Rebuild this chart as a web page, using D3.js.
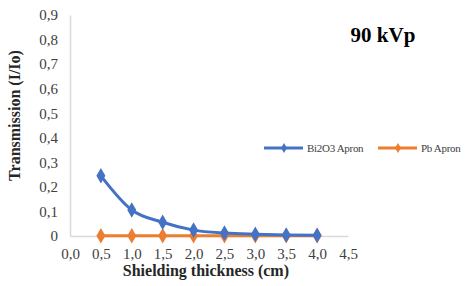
<!DOCTYPE html>
<html>
<head>
<meta charset="utf-8">
<script src="https://cdn.jsdelivr.net/npm/d3@7"></script>
<style>
  body { margin: 0; background: #fff; }
  svg text { font-family: "Liberation Serif", "Times New Roman", serif !important; }
</style>
</head>
<body>
<div id="chart"></div>
<script>
// data
var thickness = [0.5, 1.0, 1.5, 2.0, 2.5, 3.0, 3.5, 4.0];
var bi2o3 = [0.245, 0.106, 0.056, 0.024, 0.012, 0.007, 0.004, 0.003];
var pb = [0.001, 0.001, 0.001, 0.001, 0.001, 0.001, 0.001, 0.001];
var seriesNames = ["Bi2O3 Apron", "Pb Apron"];
var seriesColors = ["#4472C4", "#ED7D31"];
var xTicks = [0, 0.5, 1, 1.5, 2, 2.5, 3, 3.5, 4, 4.5];
var yTicks = [0, 0.1, 0.2, 0.3, 0.4, 0.5, 0.6, 0.7, 0.8, 0.9];

var W = 466, H = 286;
var margin = {top: 15, right: 118, bottom: 50, left: 70},
  width = W - margin.left - margin.right,
  height = H - margin.top - margin.bottom;

var svg = d3.select("#chart")
  .append("svg")
    .attr("width", W)
    .attr("height", H)
  .append("g")
    .attr("transform", "translate(" + margin.left + "," + margin.top + ")");

var x = d3.scaleLinear().domain([0, 4.5]).range([0, width]);
var y = d3.scaleLinear().domain([0, 0.9]).range([height, 0]);

var fmt = function(d) { return d3.format(".1f")(d).replace(".", ","); };
var fmtY = function(d) { return d === 0 ? "0" : d3.format(".1f")(d).replace(".", ","); };

// x axis
var xAxis = svg.append("g")
  .attr("transform", "translate(0," + height + ")")
  .call(d3.axisBottom(x).tickValues(xTicks).tickFormat(fmt).tickSize(0).tickPadding(12));
xAxis.select(".domain").attr("stroke", "#d9d9d9").attr("stroke-width", 1.5);
xAxis.selectAll("text").style("font-size", "15px").style("fill", "#404040");

// y axis
var yAxis = svg.append("g")
  .call(d3.axisLeft(y).tickValues(yTicks).tickFormat(fmtY).tickSize(0).tickPadding(12));
yAxis.select(".domain").attr("stroke", "#d9d9d9").attr("stroke-width", 1.5);
yAxis.selectAll("text").style("font-size", "15px").style("fill", "#404040");

// lines
var line = d3.line()
  .x(function(d) { return x(d[0]); })
  .y(function(d) { return y(d[1]); })
  .curve(d3.curveMonotoneX);

var sym = d3.symbol().type(d3.symbolDiamond).size(70);

[pb, bi2o3].forEach(function(vals, k) {
  var i = k === 0 ? 1 : 0;
  var pts = thickness.map(function(t, j) { return [t, vals[j]]; });
  svg.append("path")
    .datum(pts)
    .attr("fill", "none")
    .attr("stroke", seriesColors[i])
    .attr("stroke-width", 3)
    .attr("d", line);
  svg.selectAll(null)
    .data(pts)
    .enter()
    .append("path")
      .attr("transform", function(d) { return "translate(" + x(d[0]) + "," + y(d[1]) + ")"; })
      .attr("d", sym)
      .attr("fill", seriesColors[i]);
});

// axis titles
svg.append("text")
  .attr("transform", "rotate(-90)")
  .attr("x", -height / 2 + 10)
  .attr("y", -50)
  .attr("text-anchor", "middle")
  .style("font-size", "16px")
  .style("font-weight", "bold")
  .style("fill", "#262626")
  .text("Transmission  (I/Io)");

svg.append("text")
  .attr("x", x(2.2))
  .attr("y", height + 40)
  .attr("text-anchor", "middle")
  .style("font-size", "16px")
  .style("font-weight", "bold")
  .style("fill", "#262626")
  .text("Shielding thickness (cm)");

// chart title
svg.append("text")
  .attr("x", 383 - margin.left)
  .attr("y", 42 - margin.top)
  .attr("text-anchor", "middle")
  .style("font-size", "21px")
  .style("font-weight", "bold")
  .style("fill", "#000")
  .text("90 kVp");

// legend
var legend = svg.append("g").attr("transform", "translate(" + (264 - margin.left) + "," + (148 - margin.top) + ")");
var legendX = [0, 114];
seriesNames.forEach(function(name, i) {
  var g = legend.append("g").attr("transform", "translate(" + legendX[i] + ",0)");
  g.append("line").attr("x1", 0).attr("x2", 39).attr("y1", 0).attr("y2", 0)
    .attr("stroke", seriesColors[i]).attr("stroke-width", 3);
  g.append("path").attr("transform", "translate(20,0)")
    .attr("d", d3.symbol().type(d3.symbolDiamond).size(30)).attr("fill", seriesColors[i]);
  g.append("text").attr("x", 43).attr("y", 4)
    .style("font-size", "11px").style("letter-spacing", "-0.3px")
    .style("fill", "#404040").text(name);
});
</script>
</body>
</html>
